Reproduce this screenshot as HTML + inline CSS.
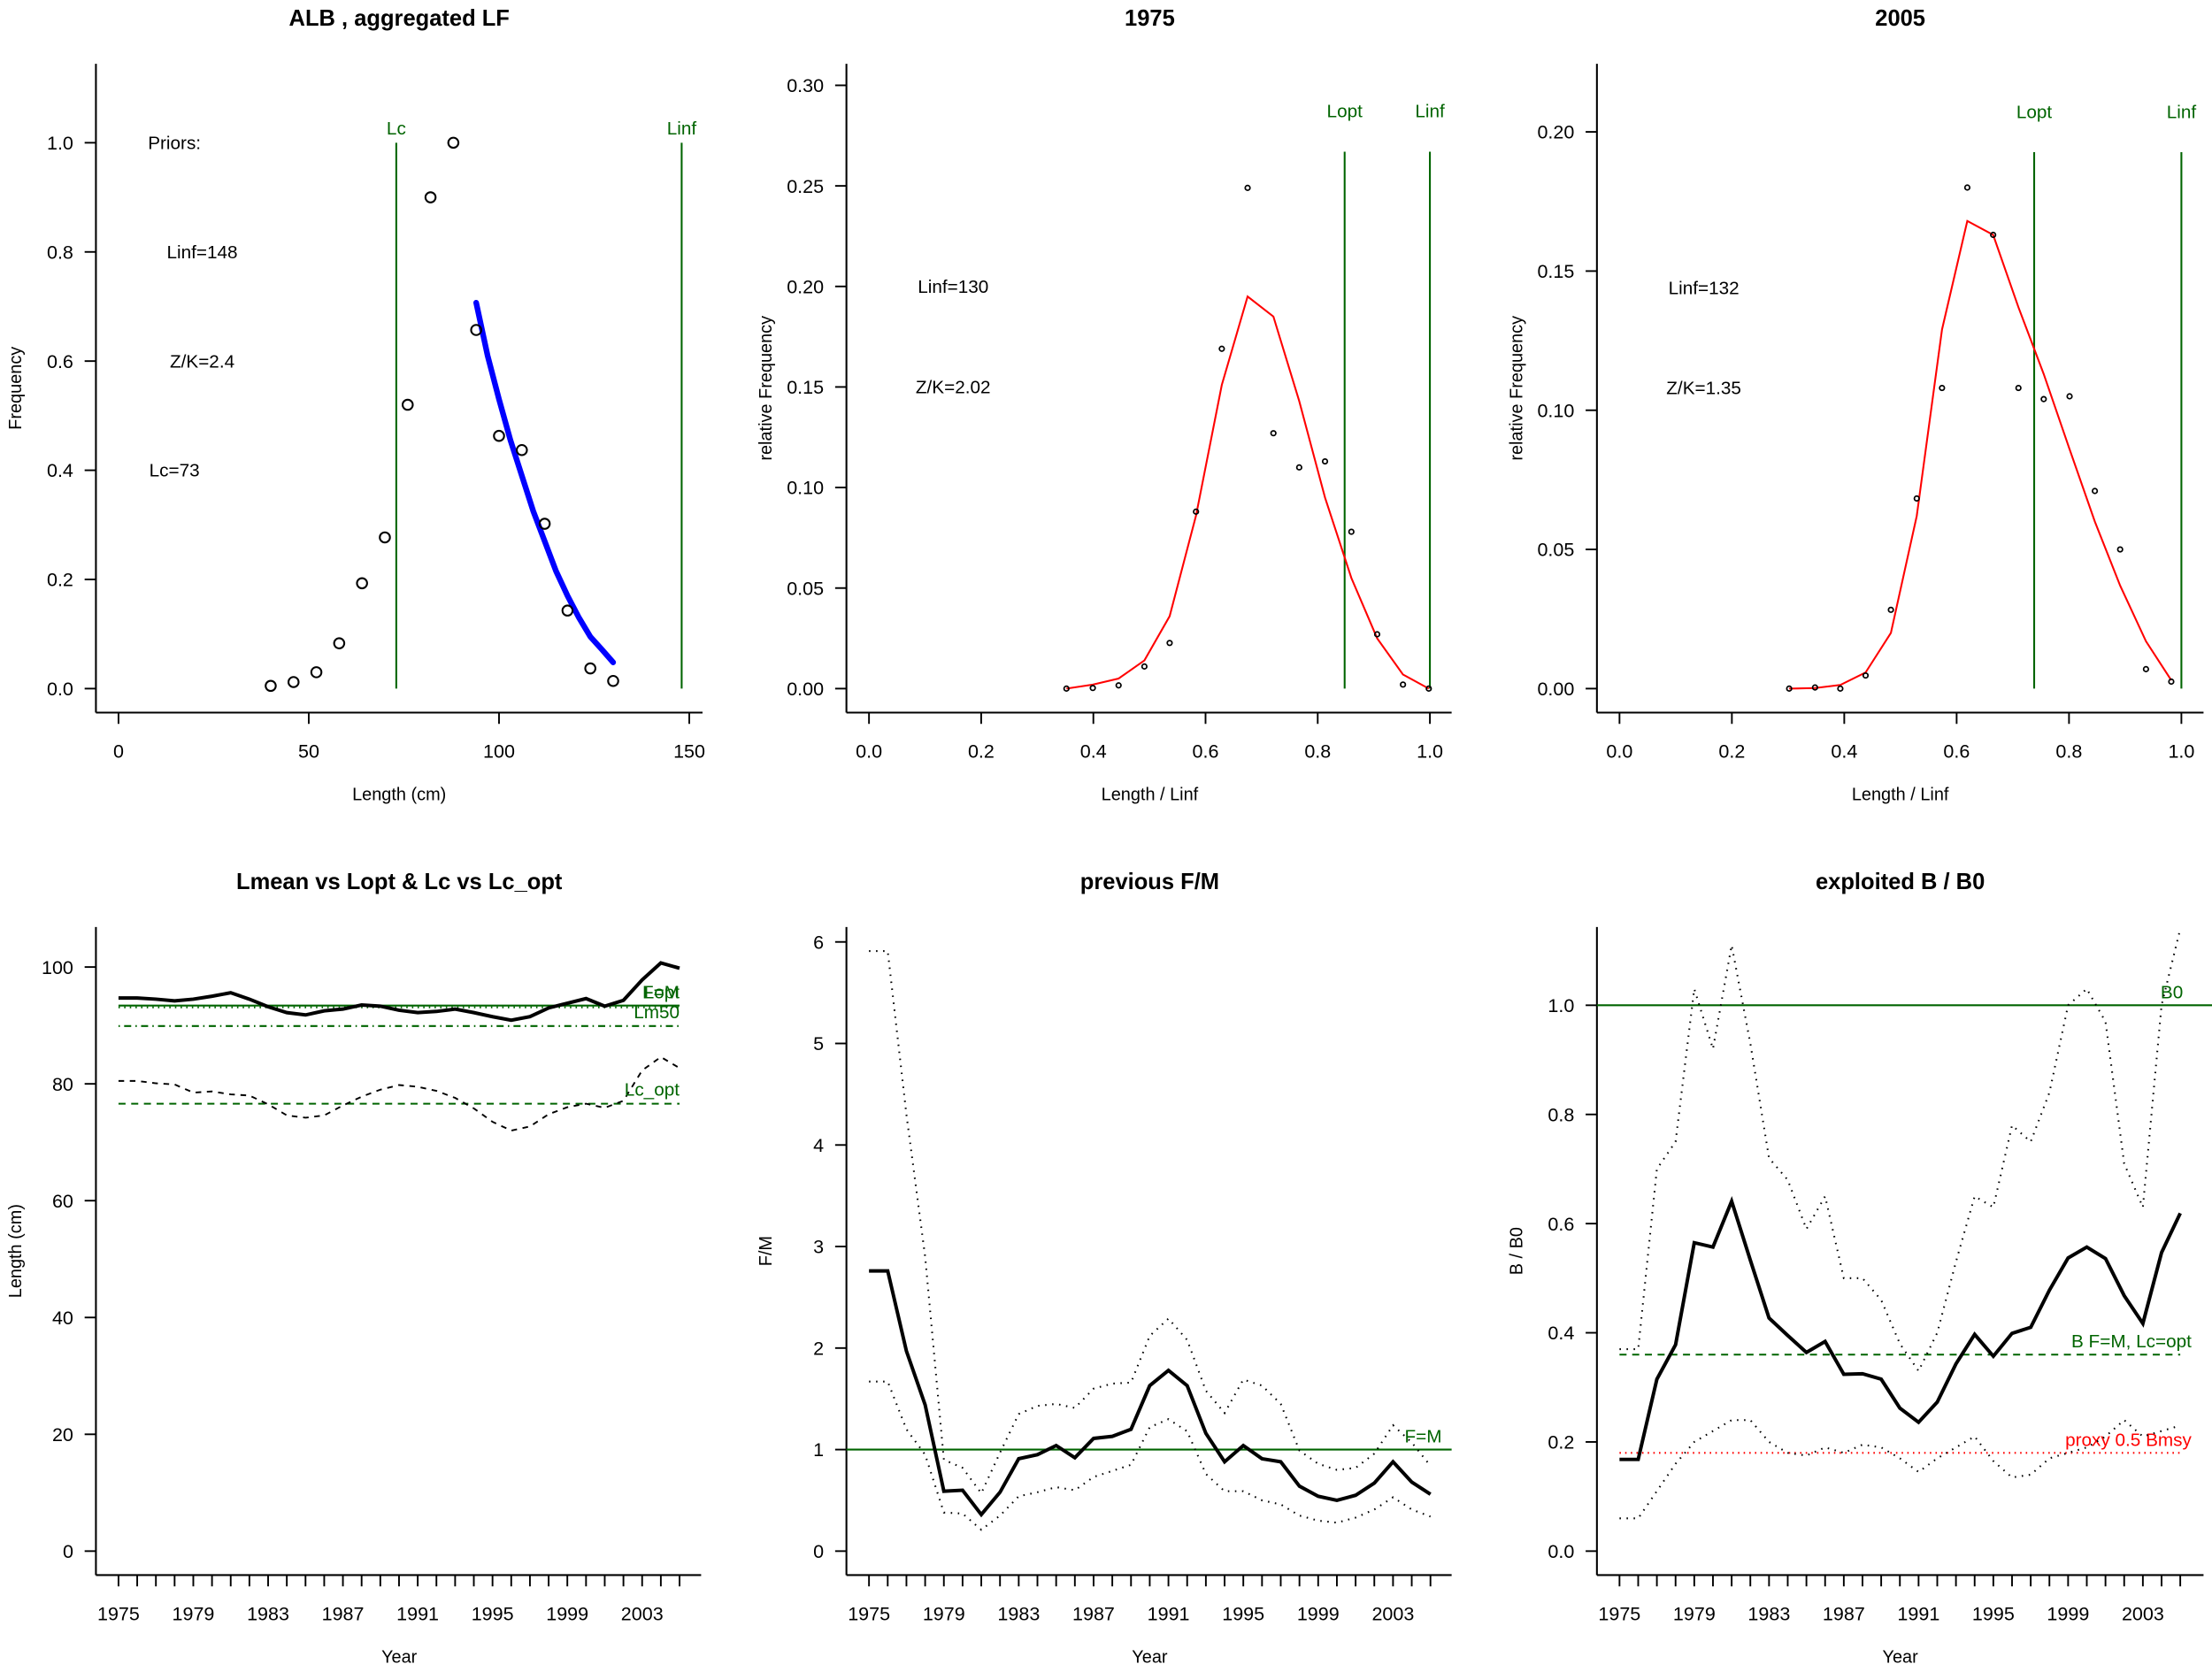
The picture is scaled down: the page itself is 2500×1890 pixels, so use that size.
<!DOCTYPE html>
<html><head><meta charset="utf-8"><style>
html,body{margin:0;padding:0;background:#fff;}
svg{display:block;font-family:"Liberation Sans",Arial,sans-serif;}
</style></head><body>
<svg id="c" xmlns="http://www.w3.org/2000/svg" width="2500" height="1890" viewBox="0 0 1568 1185"></svg>
<script>
// ---------- Panel 1 data ----------
const p1Len = [40,46,52,58,64,70,76,82,88,94,100,106,112,118,124,130];
const p1Freq = [0.005,0.012,0.03,0.083,0.193,0.277,0.52,0.90,1.0,0.657,0.463,0.437,0.302,0.143,0.037,0.014];
const p1FitLen = [94,97,100,103,106,109,112,115,118,121,124,127,130];
const p1Fit = [0.707,0.61,0.53,0.455,0.39,0.325,0.27,0.215,0.17,0.13,0.095,0.072,0.048];
const p1XTicks = [0,50,100,150];
const p1YTicks = [0,0.2,0.4,0.6,0.8,1.0];
// ---------- Panel 2 data (1975) ----------
const p2X = [0.352,0.399,0.445,0.491,0.536,0.583,0.629,0.675,0.721,0.767,0.813,0.860,0.906,0.952,0.998];
const p2Obs = [0,0.0003,0.0016,0.011,0.0227,0.088,0.169,0.249,0.127,0.110,0.113,0.078,0.027,0.002,0];
const p2Fit = [0,0.002,0.005,0.014,0.036,0.086,0.151,0.195,0.185,0.143,0.095,0.055,0.025,0.007,0];
const p2YTicks = [0,0.05,0.10,0.15,0.20,0.25,0.30];
const relXTicks = [0,0.2,0.4,0.6,0.8,1.0];
// ---------- Panel 3 data (2005) ----------
const p3X = [0.302,0.348,0.393,0.438,0.483,0.529,0.574,0.619,0.665,0.710,0.755,0.801,0.846,0.891,0.937,0.982];
const p3Obs = [0,0.0004,0,0.0047,0.0283,0.0683,0.108,0.180,0.163,0.108,0.104,0.105,0.071,0.050,0.007,0.0025];
const p3Fit = [0,0.0002,0.0013,0.0058,0.020,0.062,0.129,0.168,0.163,0.137,0.113,0.086,0.060,0.037,0.017,0.003];
const p3YTicks = [0,0.05,0.10,0.15,0.20];
// ---------- Time series ----------
const years = [1975,1976,1977,1978,1979,1980,1981,1982,1983,1984,1985,1986,1987,1988,1989,1990,1991,1992,1993,1994,1995,1996,1997,1998,1999,2000,2001,2002,2003,2004,2005];
const yearLabels = [1975,1979,1983,1987,1991,1995,1999,2003];
const lmean = [94.7,94.7,94.5,94.2,94.5,95.0,95.6,94.5,93.2,92.2,91.8,92.5,92.8,93.5,93.3,92.6,92.2,92.4,92.8,92.2,91.5,90.9,91.5,93.0,93.8,94.6,93.3,94.3,97.8,100.7,99.8];
const lc = [80.5,80.5,80.1,79.9,78.5,78.7,78.2,78.0,76.5,74.6,74.2,74.6,76.3,77.8,79.0,79.8,79.5,78.8,77.6,75.8,73.5,72.0,72.7,74.8,76.0,76.6,75.9,77.1,82.3,84.6,82.7];
const p4YTicks = [0,20,40,60,80,100];
const fm = [2.76,2.76,1.97,1.44,0.59,0.60,0.36,0.58,0.91,0.95,1.04,0.92,1.11,1.13,1.20,1.63,1.78,1.63,1.16,0.88,1.04,0.91,0.88,0.64,0.54,0.50,0.55,0.67,0.88,0.68,0.56];
const fmHi = [5.91,5.91,4.3,2.9,0.9,0.82,0.57,0.97,1.35,1.43,1.45,1.41,1.60,1.65,1.66,2.12,2.29,2.08,1.58,1.36,1.69,1.63,1.45,0.99,0.86,0.80,0.82,0.96,1.24,1.07,0.84];
const fmLo = [1.67,1.67,1.2,0.95,0.38,0.37,0.21,0.35,0.54,0.58,0.63,0.60,0.73,0.79,0.85,1.22,1.30,1.18,0.76,0.59,0.59,0.50,0.46,0.35,0.30,0.28,0.33,0.41,0.53,0.41,0.34];
const p5YTicks = [0,1,2,3,4,5,6];
const bb0 = [0.168,0.168,0.315,0.378,0.565,0.557,0.641,0.533,0.427,0.395,0.364,0.384,0.324,0.325,0.315,0.262,0.236,0.273,0.343,0.397,0.357,0.399,0.410,0.478,0.537,0.557,0.536,0.468,0.417,0.547,0.619];
const bb0Hi = [0.37,0.37,0.70,0.75,1.03,0.92,1.11,0.93,0.72,0.68,0.59,0.65,0.50,0.50,0.46,0.38,0.33,0.40,0.53,0.65,0.63,0.78,0.75,0.84,1.00,1.03,0.97,0.71,0.63,1.00,1.14];
const bb0Lo = [0.06,0.06,0.11,0.16,0.20,0.22,0.24,0.24,0.20,0.18,0.175,0.19,0.18,0.195,0.19,0.17,0.145,0.17,0.19,0.21,0.165,0.135,0.14,0.17,0.18,0.19,0.21,0.24,0.21,0.22,0.23];
const p6YTicks = [0,0.2,0.4,0.6,0.8,1.0];

const NS = "http://www.w3.org/2000/svg";
const svg = document.getElementById('c');
function el(tag, attrs, parent, txt){
  const e = document.createElementNS(NS, tag);
  for (const k in attrs) e.setAttribute(k, attrs[k]);
  if (txt !== undefined) e.textContent = txt;
  (parent||svg).appendChild(e);
  return e;
}
function lin(d0,d1,r0,r1){ return v => r0 + (v-d0)*(r1-r0)/(d1-d0); }
function pathD(xs, ys, sx, sy){ return xs.map((x,i)=>(i?'L':'M')+sx(x).toFixed(2)+' '+sy(ys[i]).toFixed(2)).join(' '); }

function panel(name, o){
  const g = el('g', {}, svg);
  
  
  const ya = el('line', {x1:o.left, y1:o.top, x2:o.left, y2:o.bottom, stroke:'#000','stroke-width':1.3}, g);
  
  
  const xa = el('line', {x1:o.left, y1:o.bottom, x2:o.right, y2:o.bottom, stroke:'#000','stroke-width':1.3}, g);
  
  
  o.yTicks.forEach(v=>{
    const y = o.sy(v);
    el('line',{x1:o.left-8,y1:y,x2:o.left,y2:y,stroke:'#000','stroke-width':1.2},g);
    const t = el('text',{x:o.left-16,y:y+4.8,'text-anchor':'end','font-size':13.5},g,o.yFmt(v));
    
    
  });
  o.xTicks.forEach(v=>{
    const x = o.sx(v);
    el('line',{x1:x,y1:o.bottom,x2:x,y2:o.bottom+8,stroke:'#000','stroke-width':1.2},g);
  });
  o.xLabels.forEach(v=>{
    const t = el('text',{x:o.sx(v),y:o.bottom+32,'text-anchor':'middle','font-size':13.5},g,o.xFmt(v));
    
    
  });
  const tt = el('text',{x:o.tcx,y:o.top-27,'text-anchor':'middle','font-size':16,'font-weight':'bold'},g,o.title);
  
  
  const xt = el('text',{x:o.tcx,y:o.bottom+62,'text-anchor':'middle','font-size':12.5},g,o.xTitle);
  
  
  const yt = el('text',{x:0,y:0,'text-anchor':'middle','font-size':12.5,transform:`translate(${o.ytx},${(o.top+o.bottom)/2}) rotate(-90)`},g,o.yTitle);
  
  
  return g;
}
function line(g, name, xs, ys, sx, sy, attrs){
  const p = el('path', Object.assign({d:pathD(xs,ys,sx,sy), fill:'none'}, attrs), g);
  
  
  return p;
}
function label(g, name, x, y, txt, color, anchor, size){
  const t = el('text',{x:x,y:y,'text-anchor':anchor||'middle','font-size':size||13,fill:color||'#000'},g,txt);
  
  
  return t;
}
const GREEN = '#006400';

// ---------- Panel 1 ----------
{
  const sx = lin(0,150,84,488.6), sy = lin(0,1,488,101);
  const g = panel('panel-aggregated-lf',{left:68,right:498,top:45,bottom:505,sx,sy,yTicks:p1YTicks,xTicks:p1XTicks,xLabels:p1XTicks,
    yFmt:v=>v.toFixed(1),xFmt:v=>String(v),title:'ALB , aggregated LF',xTitle:'Length (cm)',yTitle:'Frequency',tcx:283,ytx:15});
  const lcl = el('line',{x1:sx(73),y1:sy(0),x2:sx(73),y2:sy(1),stroke:GREEN,'stroke-width':1.3},g);
   
  label(g,'lc-label',sx(73),sy(1)-6,'Lc',GREEN);
  const lil = el('line',{x1:sx(148),y1:sy(0),x2:sx(148),y2:sy(1),stroke:GREEN,'stroke-width':1.3},g);
   
  label(g,'linf-label',sx(148),sy(1)-6,'Linf',GREEN);
  line(g,'fit-curve',p1FitLen,p1Fit,sx,sy,{stroke:'#0000ff','stroke-width':4,'stroke-linecap':'round'});
  p1Len.forEach((x,i)=>{
    const c = el('circle',{cx:sx(x),cy:sy(p1Freq[i]),r:3.6,fill:'none',stroke:'#000','stroke-width':1.3},g);
     
  });
  label(g,'priors-label',sx(14.7),sy(1)+4.5,'Priors:');
  label(g,'linf-prior',sx(22),sy(0.8)+4.5,'Linf=148');
  label(g,'zk-prior',sx(22),sy(0.6)+4.5,'Z/K=2.4');
  label(g,'lc-prior',sx(14.7),sy(0.4)+4.5,'Lc=73');
}
// ---------- Panels 2 & 3 ----------
function relPanel(name, title, sx, sy, left, right, yTicks, X, Obs, Fit, lopt, lineTop, labTop, txtA, txtB, yA, yB, tcx, ytx){
  const g = panel(name,{left,right,top:45,bottom:505,sx,sy,yTicks,xTicks:relXTicks,xLabels:relXTicks,
    yFmt:v=>v.toFixed(2),xFmt:v=>v.toFixed(1),title,xTitle:'Length / Linf',yTitle:'relative Frequency',tcx,ytx});
  [[lopt,'lopt'],[1,'linf']].forEach(([v,n])=>{
    const l = el('line',{x1:sx(v),y1:sy(0),x2:sx(v),y2:sy(lineTop),stroke:GREEN,'stroke-width':1.3},g);
     
  });
  label(g,'lopt-label',sx(lopt),sy(labTop)+4,'Lopt',GREEN);
  label(g,'linf-label',sx(1),sy(labTop)+4,'Linf',GREEN);
  line(g,'fit-curve',X,Fit,sx,sy,{stroke:'#ff0000','stroke-width':1.3});
  X.forEach((x,i)=>{
    const c = el('circle',{cx:sx(x),cy:sy(Obs[i]),r:1.7,fill:'none',stroke:'#000','stroke-width':1.1},g);
     
  });
  label(g,'linf-text',sx(0.15),sy(yA)+4.5,txtA);
  label(g,'zk-text',sx(0.15),sy(yB)+4.5,txtB);
}
relPanel('panel-1975','1975',lin(0,1,616,1013.6),lin(0,0.30,488,60.3),600,1029,p2YTicks,p2X,p2Obs,p2Fit,0.848,0.267,0.287,'Linf=130','Z/K=2.02',0.20,0.15,815,547);
relPanel('panel-2005','2005',lin(0,1,1148,1546.3),lin(0,0.20,488,93.3),1132,1562,p3YTicks,p3X,p3Obs,p3Fit,0.738,0.1927,0.207,'Linf=132','Z/K=1.35',0.144,0.108,1347,1079);

// ---------- Time series panels ----------
function tsPanel(name, title, yTitle, sx, sy, left, right, yTicks, tcx, ytx, yFmt){
  return panel(name,{left,right,top:657,bottom:1116.5,sx,sy,yTicks,xTicks:years,xLabels:yearLabels,
    yFmt:yFmt||(v=>String(v)),xFmt:v=>String(v),title,xTitle:'Year',yTitle,tcx,ytx});
}
function hline(g,name,v,sx,sy,x0,x1,color,dash,w){
  const a = {x1:x0,y1:sy(v),x2:x1,y2:sy(v),stroke:color,'stroke-width':w||1.3};
  if (dash) a['stroke-dasharray']=dash;
  const l = el('line',a,g);
   
}
{
  const sx = lin(1975,2005,84,481.7), sy = lin(0,100,1099.5,685.4);
  const g = tsPanel('panel-lmean','Lmean vs Lopt & Lc vs Lc_opt','Length (cm)',sx,sy,68,497,p4YTicks,283,15);
  hline(g,'lopt-line',93.4,sx,sy,sx(1975),sx(2005),GREEN,null,1.3);
  hline(g,'lfm-line',93.1,sx,sy,sx(1975),sx(2005),GREEN,'1,3',1.3);
  hline(g,'lm50-line',89.9,sx,sy,sx(1975),sx(2005),GREEN,'1,3,5,3',1.3);
  hline(g,'lcopt-line',76.6,sx,sy,sx(1975),sx(2005),GREEN,'5,4',1.3);
  line(g,'lmean-line',years,lmean,sx,sy,{stroke:'#000','stroke-width':2.5});
  line(g,'lc-line',years,lc,sx,sy,{stroke:'#000','stroke-width':1.2,'stroke-dasharray':'4,4'});
  label(g,'lopt-label',sx(2005),sy(95.7)+4.5,'Lopt',GREEN,'end');
  label(g,'lfm-label',sx(2005),sy(95.7)+4.5,'F=M',GREEN,'end');
  label(g,'lm50-label',sx(2005),sy(92.3)+4.5,'Lm50',GREEN,'end');
  label(g,'lcopt-label',sx(2005),sy(79.1)+4.5,'Lc_opt',GREEN,'end');
}
{
  const sx = lin(1975,2005,616,1014), sy = lin(0,6,1099.5,667.6);
  const g = tsPanel('panel-fm','previous F/M','F/M',sx,sy,600,1029,p5YTicks,815,547);
  hline(g,'fm-ref-line',1,sx,sy,600,1029,GREEN,null,1.3);
  label(g,'fm-ref-label',sx(2005)+8,sy(1)-5,'F=M',GREEN,'end');
  line(g,'fm-upper',years,fmHi,sx,sy,{stroke:'#000','stroke-width':1.3,'stroke-dasharray':'1,4'});
  line(g,'fm-lower',years,fmLo,sx,sy,{stroke:'#000','stroke-width':1.3,'stroke-dasharray':'1,4'});
  line(g,'fm-line',years,fm,sx,sy,{stroke:'#000','stroke-width':2.5});
}
{
  const sx = lin(1975,2005,1148,1545.5), sy = lin(0,1,1099.5,712.5);
  const g = tsPanel('panel-bb0','exploited B / B0','B / B0',sx,sy,1132,1562,p6YTicks,1347,1079,v=>v.toFixed(1));
  hline(g,'b0-line',1,sx,sy,1132,1568,GREEN,null,1.3);
  label(g,'b0-label',sx(2005)-6,sy(1)-5,'B0',GREEN,'middle');
  hline(g,'bfm-line',0.36,sx,sy,sx(1975),sx(2005),GREEN,'5,4',1.3);
  label(g,'bfm-label',sx(2005)+8,sy(0.36)-5,'B F=M, Lc=opt',GREEN,'end');
  hline(g,'bmsy-line',0.18,sx,sy,sx(1975),sx(2005),'#ff0000','1,3',1.3);
  label(g,'bmsy-label',sx(2005)+8,sy(0.18)-5,'proxy 0.5 Bmsy','#ff0000','end');
  line(g,'bb0-upper',years,bb0Hi,sx,sy,{stroke:'#000','stroke-width':1.3,'stroke-dasharray':'1,4'});
  line(g,'bb0-lower',years,bb0Lo,sx,sy,{stroke:'#000','stroke-width':1.3,'stroke-dasharray':'1,4'});
  line(g,'bb0-line',years,bb0,sx,sy,{stroke:'#000','stroke-width':2.5});
}
</script>
</body></html>
